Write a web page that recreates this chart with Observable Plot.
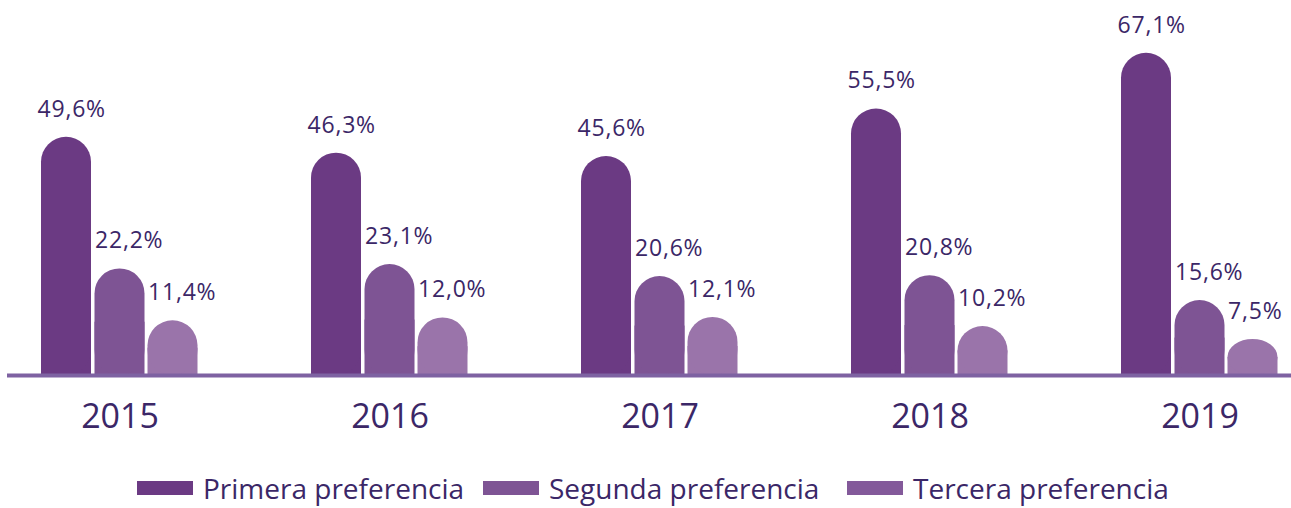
<!DOCTYPE html>
<html>
<head>
<meta charset="utf-8">
<script src="https://cdn.jsdelivr.net/npm/d3@7"></script>
<script src="https://cdn.jsdelivr.net/npm/@observablehq/plot@0.6"></script>
<style>
  html, body { margin: 0; padding: 0; background: #fff; }
  #chart { width: 1291px; }
  svg g[aria-label="text"] text { letter-spacing: 0.8px; }
  #legend { position: relative; width: 1291px; height: 68px; font-family: "Open Sans", sans-serif; font-size: 28px; color: #3b2767; }
  .item { position: absolute; top: 33px; height: 30px; display: flex; align-items: center; white-space: nowrap; }
  .sw { width: 56px; height: 14px; margin-right: 10px; }
</style>
</head>
<body>
<div id="chart"></div>
<div id="legend"></div>
<script>
const years = ["2015", "2016", "2017", "2018", "2019"];
const seriesNames = ["Primera preferencia", "Segunda preferencia", "Tercera preferencia"];
const primera = [49.6, 46.3, 45.6, 55.5, 67.1];
const segunda = [22.2, 23.1, 20.6, 20.8, 15.6];
const tercera = [11.4, 12.0, 12.1, 10.2, 7.5];
const barColors = ["#6b3a83", "#7e5494", "#9a74aa"];
const legendColors = ["#6b3a83", "#7e5494", "#83599a"];

const seriesValues = [primera, segunda, tercera];
const data = years.flatMap((y, i) => seriesValues.map((vals, s) => ({ year: y, series: s, value: vals[i] })));

const offsets = [-53.5, 0, 53];
const labelShift = [-29, -25, -25];
const textColor = "#3b2767";
const fmt = v => v.toFixed(1).replace(".", ",") + "%";

const marks = [];
seriesValues.forEach((_, s) => {
  const sub = data.filter(d => d.series === s);
  marks.push(Plot.barY(sub, { x: "year", y1: 0, y2: d => d.value / 2, fill: barColors[s], insetLeft: 53.5, insetRight: 53.5, dx: offsets[s] }));
  marks.push(Plot.barY(sub, { x: "year", y: "value", fill: barColors[s], insetLeft: 53.5, insetRight: 53.5, dx: offsets[s], rx: 25, ry: 25 }));
  marks.push(Plot.text(sub, { x: "year", y: "value", text: d => fmt(d.value), dx: offsets[s] + labelShift[s], dy: -28, textAnchor: "start", lineAnchor: "middle", fill: textColor, fontSize: 23 }));
});
marks.push(Plot.ruleY([0], { stroke: "#7e62a2", strokeWidth: 4 }));

const chart = Plot.plot({
  width: 1291,
  height: 440,
  marginLeft: 7,
  marginRight: 0,
  marginTop: 0,
  marginBottom: 65,
  x: { domain: years, paddingInner: 0.41852, paddingOuter: 0.087, align: 0.723, tickSize: 0, tickPadding: 28, label: null },
  y: { domain: [0, 78.1], axis: null },
  style: { fontFamily: "Open Sans, sans-serif", fontSize: "34px", color: textColor, background: "#fff", overflow: "visible" },
  marks
});
document.getElementById("chart").appendChild(chart);

const legend = document.getElementById("legend");
const lefts = [137, 483, 847];
seriesNames.forEach((name, s) => {
  const it = document.createElement("div");
  it.className = "item";
  it.style.left = lefts[s] + "px";
  const sw = document.createElement("span");
  sw.className = "sw";
  sw.style.background = legendColors[s];
  const t = document.createElement("span");
  t.textContent = name;
  it.appendChild(sw);
  it.appendChild(t);
  legend.appendChild(it);
});
</script>
</body>
</html>
